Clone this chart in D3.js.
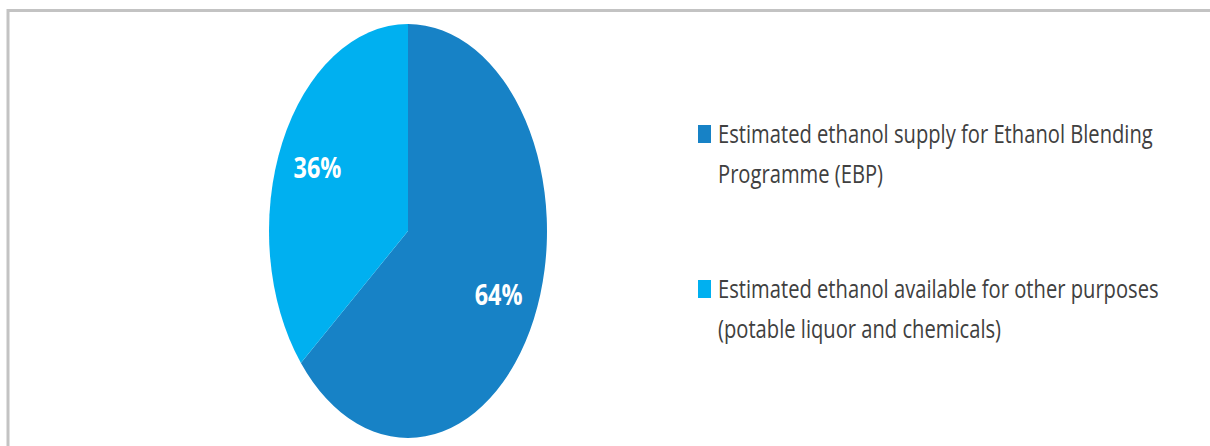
<!DOCTYPE html>
<html>
<head>
<meta charset="utf-8">
<script src="https://cdn.jsdelivr.net/npm/d3@7"></script>
<style>
  html, body { margin: 0; padding: 0; background: #fff; }
  svg { display: block; }
</style>
</head>
<body>
<div id="chart"></div>
<script>
// ---- data ----
const categories = [
  "Estimated ethanol supply for Ethanol Blending Programme (EBP)",
  "Estimated ethanol available for other purposes (potable liquor and chemicals)"
];
const legendLines = [
  ["Estimated ethanol supply for Ethanol Blending", "Programme (EBP)"],
  ["Estimated ethanol available for other purposes", "(potable liquor and chemicals)"]
];
const values = [64, 36];
const valueLabels = ["64%", "36%"];
const colors = ["#1782C6", "#00B0F0"];

// ---- layout ----
const W = 1210, H = 446;
const cx = 408, cy = 231, ry = 207, rx = 139;
const sx = rx / ry;
const fontFamily = "'Open Sans', 'Noto Sans', sans-serif";

const svg = d3.select("#chart").append("svg")
  .attr("width", W).attr("height", H);

svg.append("rect").attr("width", W).attr("height", H).attr("fill", "#fff");

// frame (top and left edges)
svg.append("path")
  .attr("d", "M8,446 V10.5 H1210")
  .attr("fill", "none")
  .attr("stroke", "#c3c3c3")
  .attr("stroke-width", 3);

// ---- pie ----
const pie = d3.pie().sort(null).value(d => d)(values);
const arc = d3.arc().innerRadius(0).outerRadius(ry);
const labelArc = d3.arc().innerRadius(ry * 0.72).outerRadius(ry * 0.72);

const pg = svg.append("g")
  .attr("transform", `translate(${cx},${cy}) scale(${sx},1)`);

pg.selectAll("path.slice")
  .data(pie)
  .join("path")
  .attr("class", "slice")
  .attr("d", arc)
  .attr("fill", (d, i) => colors[i]);

// ---- legend (measure compression) ----
const lg = svg.append("g");
const probe = lg.append("text")
  .attr("font-family", fontFamily)
  .attr("font-size", 25)
  .text(legendLines[0][0]);
const natural = probe.node().getComputedTextLength();
probe.remove();
const textScale = 435 / natural;

const legendTop = [125, 280];
const lineGap = 40;
legendLines.forEach((lines, i) => {
  lg.append("rect")
    .attr("x", 698).attr("y", legendTop[i])
    .attr("width", 13).attr("height", 18)
    .attr("fill", colors[i]);
  lines.forEach((ln, j) => {
    lg.append("text")
      .attr("transform", `translate(718,${legendTop[i] + 18 + j * lineGap}) scale(${textScale},1)`)
      .attr("font-family", fontFamily)
      .attr("font-size", 25)
      .attr("fill", "#404040")
      .text(ln);
  });
});

// ---- value labels ----
svg.selectAll("text.val")
  .data(pie)
  .join("text")
  .attr("class", "val")
  .attr("transform", d => {
    const c = labelArc.centroid(d);
    return `translate(${cx + c[0] * sx},${cy + c[1]}) scale(${textScale},1)`;
  })
  .attr("text-anchor", "middle")
  .attr("dy", "0.357em")
  .attr("font-family", fontFamily)
  .attr("font-weight", "bold")
  .attr("font-size", 29)
  .attr("fill", "#fff")
  .text((d, i) => valueLabels[i]);
</script>
</body>
</html>
